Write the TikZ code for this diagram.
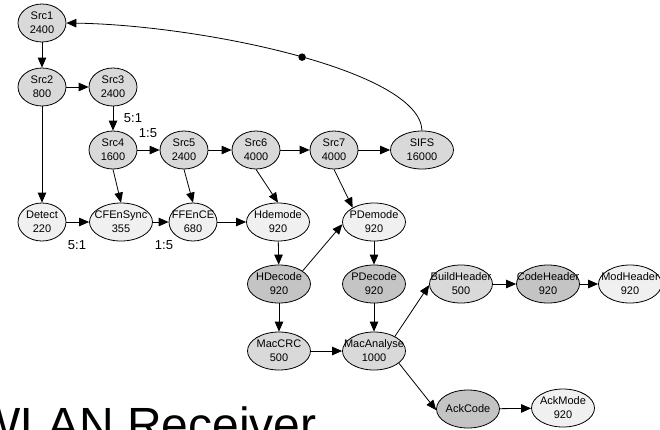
\documentclass[tikz,border=0pt]{standalone}
\usepackage{fontspec}
\setmainfont{Liberation Sans}
\usetikzlibrary{arrows.meta,shapes.geometric}

\definecolor{srcgray}{HTML}{D9D9D9}
\definecolor{palegray}{HTML}{F0F0F0}
\definecolor{deepgray}{HTML}{C4C4C4}

\tikzset{
  task/.style={ellipse, draw=black, line width=0.8pt, minimum height=38pt,
    inner xsep=-14pt, inner ysep=0pt, align=center,
    font=\fontsize{11}{14}\selectfont},
  narrow/.style={task, minimum width=48pt},
  wide/.style={task, minimum width=63pt},
  srcfill/.style={fill=srcgray},
  palefill/.style={fill=palegray},
  deepfill/.style={fill=deepgray},
  edge/.style={-{Triangle[length=10pt,width=8.5pt]}, line width=0.8pt},
  ratio/.style={font=\fontsize{13}{15}\selectfont, inner sep=0pt},
  dotmark/.style={circle, fill=black, minimum size=7.5pt, inner sep=0pt},
}

\begin{document}
\begin{tikzpicture}[x=1pt, y=-1pt]
\useasboundingbox (0,0) rectangle (660,429);

% sources
\node[narrow, srcfill] (src1) at (42,23)  {Src1\\2400};
\node[narrow, srcfill] (src2) at (42,87)  {Src2\\800};
\node[narrow, srcfill] (src3) at (113,87) {Src3\\2400};
\node[narrow, srcfill] (src4) at (113,150) {Src4\\1600};
\node[narrow, srcfill] (src5) at (184,150) {Src5\\2400};
\node[narrow, srcfill] (src6) at (256,150) {Src6\\4000};
\node[narrow, srcfill] (src7) at (334,150) {Src7\\4000};
\node[wide, srcfill]   (sifs) at (422,150) {SIFS\\16000};

% front end
\node[narrow, palefill] (detect) at (42,222)  {Detect\\220};
\node[wide, palefill]   (cfen)   at (121,222) {CFEnSync\\355};
\node[narrow, palefill] (ffen)   at (193,222) {FFEnCE\\680};
\node[wide, palefill]   (hdem)   at (278,222) {Hdemode\\920};
\node[wide, palefill]   (pdem)   at (374,222) {PDemode\\920};

% decoding
\node[wide, deepfill] (hdec) at (279,284) {HDecode\\920};
\node[wide, deepfill] (pdec) at (374,284) {PDecode\\920};

% header chain
\node[wide, srcfill]  (build) at (461,284) {BuildHeader\\500};
\node[wide, deepfill] (code)  at (548,284) {CodeHeader\\920};
\node[wide, palefill] (mod)   at (630,284) {ModHeader\\920};

% MAC layer
\node[wide, srcfill] (crc)     at (279,351) {MacCRC\\500};
\node[wide, srcfill] (analyse) at (374,351) {MacAnalyse\\1000};

% acknowledgement
\node[wide, deepfill] (ackc) at (468,409) {AckCode};
\node[wide, palefill] (ackm) at (563,408) {AckMode\\920};

% rate labels
\node[ratio] (r1) at (133,118) {5:1};
\node[ratio] (r2) at (148,133) {1:5};
\node[ratio] (r3) at (77,245)  {5:1};
\node[ratio] (r4) at (164,245) {1:5};

% title
\node[anchor=base west, inner sep=0pt, font=\fontsize{48}{50}\selectfont] (title) at (-25,441) {WLAN Receiver};

% edges
\draw[edge] (src1) -- (src2);
\draw[edge] (src2) -- (src3);
\draw[edge] (src2) -- (detect);
\draw[edge] (src3) -- (src4);
\draw[edge] (src4) -- (src5);
\draw[edge] (src5) -- (src6);
\draw[edge] (src6) -- (src7);
\draw[edge] (src7) -- (sifs);
\draw[edge] (src4.south) -- (cfen.north);
\draw[edge] (src5.south) -- (ffen.north);
\draw[edge] (src6.south) -- (hdem.north);
\draw[edge] (src7.south) -- (pdem.146);
\draw[edge] (detect) -- (cfen);
\draw[edge] (cfen) -- (ffen);
\draw[edge] (ffen) -- (hdem);
\draw[edge] (hdem) -- (hdec);
\draw[edge] (hdec.29) -- (pdem.184);
\draw[edge] (pdem) -- (pdec);
\draw[edge] (hdec) -- (crc);
\draw[edge] (pdec) -- (analyse);
\draw[edge] (crc) -- (analyse);
\draw[edge] (analyse.35) -- (build.182);
\draw[edge] (build) -- (code);
\draw[edge] (code) -- (mod);
\draw[edge] (analyse.-26) -- (ackc.182);
\draw[edge] (ackc) -- (ackm);

% feedback from SIFS to the first source
\draw[edge] (sifs.north) .. controls (420,70) and (200,25) .. (src1.east)
  node[dotmark, pos=0.48] (fb) {};
\end{tikzpicture}
\end{document}
